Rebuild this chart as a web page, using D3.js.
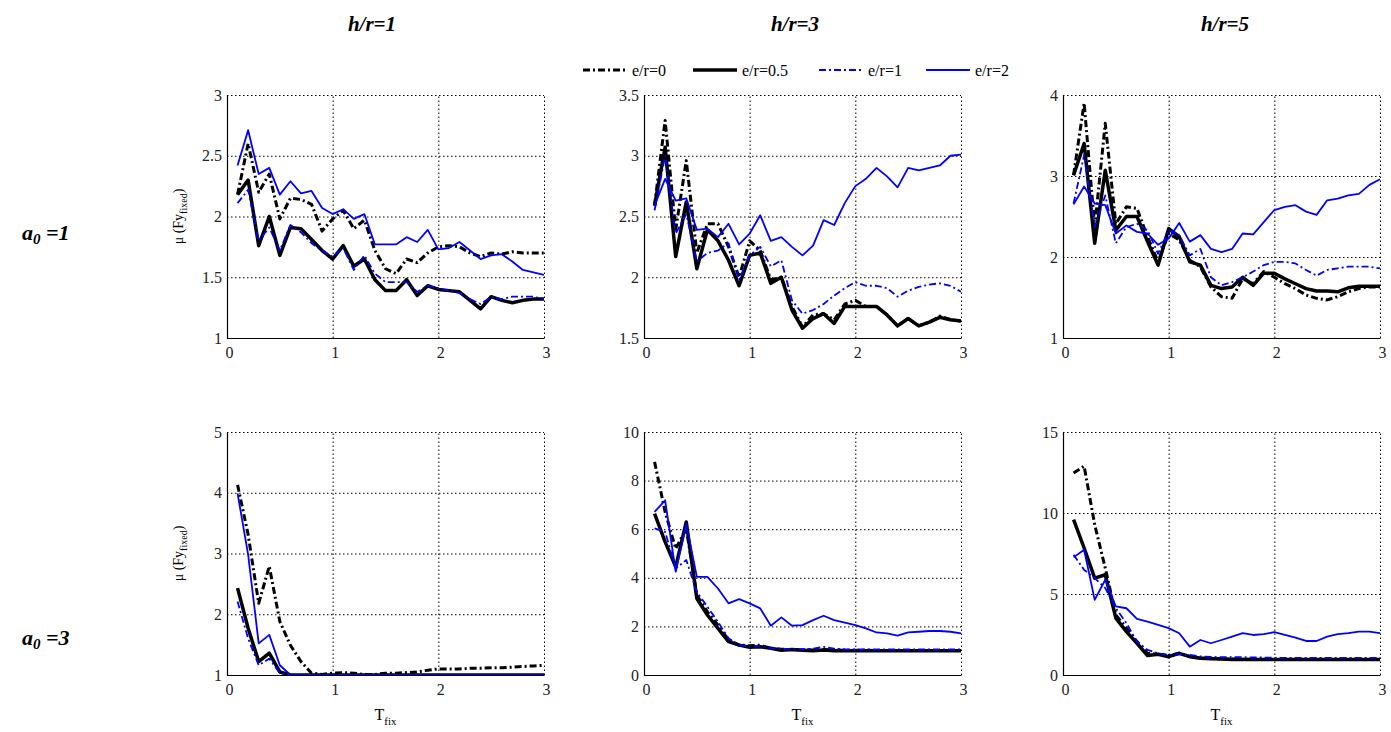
<!DOCTYPE html>
<html>
<head>
<meta charset="utf-8">
<script src="https://cdn.jsdelivr.net/npm/d3@7"></script>
<style>
  body { margin: 0; background: #fff; }
  svg text { font-family: "Liberation Serif", "Times New Roman", serif; }
</style>
</head>
<body>
<div id="chart"></div>
<script>
// period values (same for every panel)
var tfix = [0.1,0.2,0.3,0.4,0.5,0.6,0.7,0.8,0.9,1.0,1.1,1.2,1.3,1.4,1.5,1.6,1.7,1.8,1.9,2.0,2.1,2.2,2.3,2.4,2.5,2.6,2.7,2.8,2.9,3.0];

// row 1: a0 = 1
var a1h1_er0  = [2.18,2.60,2.20,2.35,1.98,2.15,2.14,2.10,1.88,1.98,2.05,1.90,1.97,1.72,1.57,1.53,1.65,1.62,1.70,1.75,1.76,1.75,1.70,1.67,1.70,1.69,1.71,1.70,1.70,1.70];
var a1h1_er05 = [2.18,2.30,1.76,2.00,1.68,1.91,1.90,1.81,1.72,1.65,1.76,1.59,1.65,1.48,1.39,1.39,1.48,1.35,1.43,1.40,1.39,1.38,1.31,1.24,1.34,1.31,1.29,1.31,1.32,1.32];
var a1h1_er1  = [2.11,2.22,1.80,1.91,1.72,1.93,1.87,1.78,1.72,1.67,1.74,1.56,1.68,1.53,1.46,1.46,1.46,1.38,1.43,1.41,1.39,1.37,1.32,1.28,1.34,1.32,1.34,1.34,1.34,1.32];
var a1h1_er2  = [2.42,2.71,2.35,2.40,2.18,2.29,2.19,2.21,2.07,2.02,2.06,1.98,2.02,1.77,1.77,1.77,1.83,1.79,1.89,1.73,1.74,1.79,1.72,1.65,1.68,1.69,1.63,1.56,1.54,1.52];

var a1h3_er0  = [2.59,3.29,2.39,2.96,2.20,2.44,2.44,2.25,2.00,2.30,2.22,1.98,2.00,1.76,1.59,1.69,1.70,1.65,1.78,1.81,1.76,1.76,1.69,1.60,1.66,1.60,1.63,1.68,1.65,1.64];
var a1h3_er05 = [2.59,3.07,2.17,2.62,2.07,2.39,2.30,2.14,1.93,2.18,2.20,1.95,2.00,1.73,1.58,1.66,1.70,1.62,1.76,1.76,1.76,1.76,1.69,1.60,1.66,1.60,1.63,1.67,1.65,1.64];
var a1h3_er1  = [2.55,3.00,2.36,2.52,2.13,2.20,2.22,2.28,1.98,2.18,2.25,2.09,2.14,1.81,1.70,1.73,1.78,1.85,1.91,1.96,1.93,1.93,1.91,1.84,1.89,1.92,1.94,1.95,1.93,1.88];
var a1h3_er2  = [2.59,2.81,2.63,2.65,2.39,2.40,2.33,2.44,2.27,2.36,2.51,2.30,2.33,2.25,2.18,2.26,2.47,2.43,2.61,2.75,2.81,2.90,2.83,2.74,2.90,2.88,2.90,2.92,3.00,3.01];

var a1h5_er0  = [3.01,3.90,2.37,3.65,2.41,2.62,2.60,2.25,1.94,2.29,2.21,1.96,1.88,1.63,1.51,1.49,1.73,1.67,1.82,1.75,1.67,1.61,1.53,1.49,1.47,1.51,1.57,1.61,1.63,1.63];
var a1h5_er05 = [3.01,3.40,2.17,3.07,2.33,2.50,2.50,2.19,1.90,2.35,2.25,1.94,1.90,1.65,1.61,1.63,1.75,1.65,1.80,1.80,1.73,1.67,1.61,1.58,1.58,1.57,1.62,1.64,1.64,1.64];
var a1h5_er1  = [2.66,3.26,2.37,2.76,2.17,2.37,2.41,2.33,2.04,2.33,2.27,2.02,2.10,1.75,1.65,1.69,1.75,1.82,1.90,1.94,1.94,1.92,1.84,1.77,1.84,1.86,1.88,1.88,1.88,1.86];
var a1h5_er2  = [2.65,2.87,2.66,2.64,2.29,2.39,2.31,2.29,2.15,2.23,2.42,2.19,2.27,2.10,2.06,2.10,2.29,2.28,2.43,2.58,2.62,2.64,2.56,2.52,2.70,2.72,2.76,2.78,2.89,2.96];

// row 2: a0 = 3
var a3h1_er0  = [4.13,3.31,2.18,2.79,1.88,1.49,1.22,1.03,1.01,1.03,1.04,1.03,1.01,1.01,1.03,1.03,1.04,1.05,1.08,1.10,1.10,1.10,1.11,1.11,1.12,1.12,1.13,1.14,1.15,1.16];
var a3h1_er05 = [2.43,1.77,1.22,1.36,1.05,1.00,1.00,1.00,1.00,1.00,1.00,1.00,1.00,1.00,1.00,1.00,1.00,1.00,1.00,1.00,1.00,1.00,1.00,1.00,1.00,1.00,1.00,1.00,1.00,1.00];
var a3h1_er1  = [2.21,1.60,1.16,1.27,1.03,1.00,1.00,1.00,1.00,1.00,1.00,1.00,1.00,1.00,1.00,1.00,1.00,1.00,1.00,1.00,1.00,1.00,1.00,1.00,1.00,1.00,1.00,1.00,1.00,1.00];
var a3h1_er2  = [3.99,2.98,1.52,1.66,1.16,1.00,1.00,1.00,1.00,1.00,1.00,1.00,1.00,1.00,1.00,1.00,1.00,1.00,1.00,1.00,1.00,1.00,1.00,1.00,1.00,1.00,1.00,1.00,1.00,1.00];

var a3h3_er0  = [8.77,6.71,5.20,6.03,3.29,2.60,2.05,1.44,1.23,1.20,1.23,1.10,1.06,1.05,1.04,1.03,1.05,1.03,1.02,1.02,1.02,1.01,1.01,1.01,1.01,1.01,1.01,1.01,1.01,1.01];
var a3h3_er05 = [6.64,5.48,4.45,6.30,3.15,2.47,1.92,1.37,1.23,1.14,1.16,1.10,1.02,1.05,1.02,1.00,1.03,1.00,1.00,1.00,1.00,1.00,1.00,1.00,1.00,1.00,1.00,1.00,1.00,1.00];
var a3h3_er1  = [6.03,5.89,4.38,4.73,3.42,2.81,2.19,1.51,1.23,1.16,1.20,1.10,1.07,1.06,1.06,1.08,1.16,1.08,1.06,1.05,1.05,1.05,1.05,1.05,1.05,1.05,1.05,1.05,1.05,1.05];
var a3h3_er2  = [6.71,7.19,4.25,6.23,4.04,4.04,3.56,2.95,3.12,2.95,2.74,2.03,2.37,2.03,2.05,2.26,2.44,2.26,2.16,2.05,1.92,1.75,1.71,1.62,1.75,1.78,1.81,1.81,1.78,1.71];

var a3h5_er0  = [12.47,12.89,9.28,6.60,3.71,2.89,2.06,1.34,1.28,1.20,1.34,1.15,1.05,1.02,1.00,0.98,0.97,0.96,0.96,0.95,0.95,0.95,0.95,0.95,0.95,0.95,0.95,0.95,0.95,0.95];
var a3h5_er05 = [9.59,7.84,5.98,6.19,3.51,2.68,1.96,1.20,1.28,1.13,1.34,1.13,1.03,1.00,0.98,0.96,0.95,0.95,0.95,0.95,0.95,0.95,0.95,0.95,0.95,0.95,0.95,0.95,0.95,0.95];
var a3h5_er1  = [7.42,6.49,5.98,5.36,4.12,3.20,2.06,1.55,1.34,1.24,1.28,1.24,1.15,1.12,1.10,1.10,1.10,1.08,1.08,1.06,1.06,1.06,1.06,1.06,1.06,1.06,1.06,1.06,1.06,1.06];
var a3h5_er2  = [7.26,7.73,4.64,5.88,4.23,4.12,3.46,3.30,3.09,2.89,2.58,1.75,2.16,1.96,2.16,2.37,2.58,2.47,2.52,2.64,2.47,2.31,2.10,2.10,2.37,2.52,2.58,2.68,2.68,2.58];

// axis limits and ticks
var xTicks = [0, 1, 2, 3];
var yLims = [[1, 3], [1.5, 3.5], [1, 4], [1, 5], [0, 10], [0, 15]];
var yTicks = [[1, 1.5, 2, 2.5, 3], [1.5, 2, 2.5, 3, 3.5], [1, 2, 3, 4], [1, 2, 3, 4, 5], [0, 2, 4, 6, 8, 10], [0, 5, 10, 15]];
var colTitles = ["h/r=1", "h/r=3", "h/r=5"];
var rowTitles = ["1", "3"];
var seriesNames = ["e/r=0", "e/r=0.5", "e/r=1", "e/r=2"];

var panels = [
  [a1h1_er0, a1h1_er05, a1h1_er1, a1h1_er2],
  [a1h3_er0, a1h3_er05, a1h3_er1, a1h3_er2],
  [a1h5_er0, a1h5_er05, a1h5_er1, a1h5_er2],
  [a3h1_er0, a3h1_er05, a3h1_er1, a3h1_er2],
  [a3h3_er0, a3h3_er05, a3h3_er1, a3h3_er2],
  [a3h5_er0, a3h5_er05, a3h5_er1, a3h5_er2]
];

// line styles for each series
var styles = [
  { color: "#000", width: 3, dash: "7,3,2,3" },
  { color: "#000", width: 3.5, dash: null },
  { color: "#0000ff", width: 1.8, dash: "7,3,2,3" },
  { color: "#0000ff", width: 1.8, dash: null }
];

var W = 1391, H = 732;
var colLeft = [227, 644, 1063], rowTop = [95, 432];
var pw = 317, ph = 243;
var fmt = d3.format("~g");

var svg = d3.select("#chart").append("svg")
  .attr("width", W)
  .attr("height", H);

panels.forEach(function(series, i) {
  var r = Math.floor(i / 3), c = i % 3;
  var g = svg.append("g")
    .attr("transform", "translate(" + colLeft[c] + "," + rowTop[r] + ")");

  var x = d3.scaleLinear().domain([0, 3]).range([0, pw]);
  var y = d3.scaleLinear().domain(yLims[i]).range([ph, 0]);

  // dotted grid
  var gx = g.append("g")
    .attr("transform", "translate(0," + ph + ")")
    .call(d3.axisBottom(x).tickValues(xTicks).tickSize(-ph).tickFormat(""));
  var gy = g.append("g")
    .call(d3.axisLeft(y).tickValues(yTicks[i]).tickSize(-pw).tickFormat(""));
  [gx, gy].forEach(function(a) {
    a.select(".domain").remove();
    a.selectAll("line")
      .attr("stroke", "#000")
      .attr("stroke-width", 1)
      .attr("stroke-dasharray", "1.5,2.5");
  });

  // clip
  g.append("clipPath").attr("id", "clip" + i)
    .append("rect").attr("width", pw).attr("height", ph);

  var line = d3.line()
    .x(function(d, k) { return x(tfix[k]); })
    .y(function(d) { return y(d); });

  series.forEach(function(vals, s) {
    g.append("path")
      .datum(vals)
      .attr("clip-path", "url(#clip" + i + ")")
      .attr("fill", "none")
      .attr("stroke", styles[s].color)
      .attr("stroke-width", styles[s].width)
      .attr("stroke-dasharray", styles[s].dash)
      .attr("stroke-linejoin", "round")
      .attr("d", line);
  });

  // solid left and bottom axes with labels
  var ax = g.append("g")
    .attr("transform", "translate(0," + ph + ")")
    .call(d3.axisBottom(x).tickValues(xTicks).tickFormat(fmt).tickSize(0).tickSizeOuter(0).tickPadding(9));
  var ay = g.append("g")
    .call(d3.axisLeft(y).tickValues(yTicks[i]).tickFormat(fmt).tickSize(0).tickSizeOuter(0).tickPadding(5));
  [ax, ay].forEach(function(a) {
    a.attr("font-family", "Liberation Serif, Times New Roman, serif")
      .attr("font-size", 16);
    a.select(".domain").attr("stroke", "#000").attr("stroke-width", 1.2);
    a.selectAll("text").attr("fill", "#222");
  });
  ax.selectAll("text").attr("dx", "2");

  // y label on first column
  if (c === 0) {
    var yl = g.append("text")
      .attr("transform", "translate(-44," + (ph / 2) + ") rotate(-90)")
      .attr("text-anchor", "middle")
      .style("font-size", "14px");
    yl.append("tspan").text("\u03bc (Fy");
    yl.append("tspan").attr("dy", 4).style("font-size", "10px").text("fixed");
    yl.append("tspan").attr("dy", -4).text(")");
  }
  // x label on bottom row
  if (r === 1) {
    var xl = g.append("text")
      .attr("x", pw / 2)
      .attr("y", ph + 45)
      .attr("text-anchor", "middle")
      .style("font-size", "16px");
    xl.append("tspan").text("T");
    xl.append("tspan").attr("dy", 5).style("font-size", "11px").text("fix");
  }
});

// column titles
var titleX = [372, 795, 1225];
colTitles.forEach(function(t, c) {
  svg.append("text")
    .attr("x", titleX[c])
    .attr("y", 31)
    .attr("text-anchor", "middle")
    .style("font-size", "21px")
    .style("font-weight", "bold")
    .style("font-style", "italic")
    .text(t);
});

// row titles
var rowY = [240, 645];
rowTitles.forEach(function(t, r) {
  var rt = svg.append("text")
    .attr("x", 22)
    .attr("y", rowY[r])
    .style("font-size", "22px")
    .style("font-weight", "bold")
    .style("font-style", "italic");
  rt.append("tspan").text("a");
  rt.append("tspan").attr("dy", 4).style("font-size", "15px").text("0");
  rt.append("tspan").attr("dy", -4).text(" =" + t);
});

// legend
var legendX = [583, 693, 819, 926];
var legend = svg.append("g").attr("transform", "translate(0,70)");
seriesNames.forEach(function(name, s) {
  legend.append("line")
    .attr("x1", legendX[s]).attr("x2", legendX[s] + 44)
    .attr("y1", 0).attr("y2", 0)
    .attr("stroke", styles[s].color)
    .attr("stroke-width", styles[s].width)
    .attr("stroke-dasharray", styles[s].dash);
  legend.append("text")
    .attr("x", legendX[s] + 49)
    .attr("y", 6)
    .style("font-size", "16px")
    .text(name);
});
</script>
</body>
</html>
